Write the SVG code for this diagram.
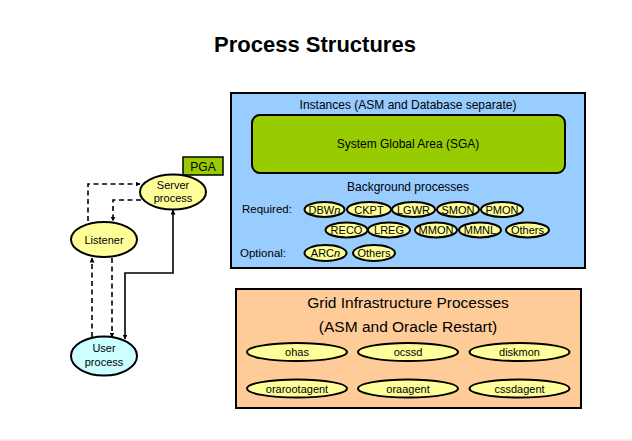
<svg xmlns="http://www.w3.org/2000/svg" width="632" height="441" viewBox="0 0 632 441">
<defs>
<style>
text{font-family:"Liberation Sans",Arial,sans-serif;fill:#000;text-anchor:middle}
.t{font-size:22px;font-weight:bold}
.box{stroke:#000;stroke-width:2}
.y{fill:#ffff99;stroke:#000;stroke-width:2}
.s{font-size:11px}
.m{font-size:11px}
.h{font-size:12px}
.g{font-size:15.5px}
.lbl{font-size:11.5px;text-anchor:start}
.d{fill:none;stroke:#000;stroke-width:1.6;stroke-dasharray:5,3.5}
.c{fill:none;stroke:#000;stroke-width:1.6}
</style>
<marker id="a" viewBox="0 0 10 10" refX="9" refY="5" markerWidth="5" markerHeight="5" orient="auto-start-reverse" markerUnits="userSpaceOnUse"><path d="M0,0 L10,5 L0,10 z" fill="#000"/></marker>
</defs>
<rect width="632" height="441" fill="#fff"/>
<rect x="0" y="439.5" width="632" height="1.5" fill="#ffe0e3"/>
<text class="t" x="315" y="52">Process Structures</text>

<g id="instances">
<rect class="box" x="231" y="93" width="354" height="175" fill="#99ccff"/>
<text class="h" x="408" y="109">Instances (ASM and Database separate)</text>
</g>
<g id="sga">
<rect class="box" x="252" y="115" width="313" height="58" rx="8" fill="#99cc00"/>
<text class="h" x="408" y="148">System Global Area (SGA)</text>
</g>
<g id="bg">
<text class="h" x="408" y="191">Background processes</text>
<text class="lbl" x="242" y="213">Required:</text>
<text class="lbl" x="240" y="257">Optional:</text>
</g>
<g id="dbwn"><ellipse class="y" cx="324.5" cy="209.5" rx="20" ry="7.5"/><text class="s" x="324.5" y="213.5">DBW<tspan font-style="italic">n</tspan></text></g>
<g id="ckpt"><ellipse class="y" cx="369" cy="209.5" rx="22" ry="7.5"/><text class="s" x="369" y="213.5">CKPT</text></g>
<g id="lgwr"><ellipse class="y" cx="413.5" cy="209.5" rx="21.5" ry="7.5"/><text class="s" x="413.5" y="213.5">LGWR</text></g>
<g id="smon"><ellipse class="y" cx="458" cy="209.5" rx="21" ry="7.5"/><text class="s" x="458" y="213.5">SMON</text></g>
<g id="pmon"><ellipse class="y" cx="502" cy="209.5" rx="21" ry="7.5"/><text class="s" x="502" y="213.5">PMON</text></g>
<g id="reco"><ellipse class="y" cx="346.5" cy="230" rx="21" ry="7.5"/><text class="s" x="346.5" y="234">RECO</text></g>
<g id="lreg"><ellipse class="y" cx="389" cy="230" rx="21" ry="7.5"/><text class="s" x="389" y="234">LREG</text></g>
<g id="mmon"><ellipse class="y" cx="436" cy="230" rx="21" ry="7.5"/><text class="s" x="436" y="234">MMON</text></g>
<g id="mmnl"><ellipse class="y" cx="480" cy="230" rx="21" ry="7.5"/><text class="s" x="480" y="234">MMNL</text></g>
<g id="others1"><ellipse class="y" cx="527.5" cy="230" rx="21.5" ry="7.5"/><text class="s" x="527.5" y="234">Others</text></g>
<g id="arcn"><ellipse class="y" cx="325.5" cy="253" rx="21" ry="8"/><text class="s" x="325.5" y="257">ARC<tspan font-style="italic">n</tspan></text></g>
<g id="others2"><ellipse class="y" cx="374" cy="253" rx="21" ry="8"/><text class="s" x="374" y="257">Others</text></g>

<g id="grid">
<rect class="box" x="236" y="289" width="345" height="119" fill="#ffcc99"/>
<text class="g" x="408" y="308">Grid Infrastructure Processes</text>
<text class="g" x="408" y="332">(ASM and Oracle Restart)</text>
</g>
<g id="ohas"><ellipse class="y" cx="297" cy="352" rx="50" ry="9"/><text class="s" x="297" y="356">ohas</text></g>
<g id="ocssd"><ellipse class="y" cx="408" cy="352" rx="50" ry="9"/><text class="s" x="408" y="356">ocssd</text></g>
<g id="diskmon"><ellipse class="y" cx="519.5" cy="352" rx="50" ry="9"/><text class="s" x="519.5" y="356">diskmon</text></g>
<g id="orarootagent"><ellipse class="y" cx="297" cy="388.5" rx="50" ry="9"/><text class="s" x="297" y="392.5">orarootagent</text></g>
<g id="oraagent"><ellipse class="y" cx="408" cy="388.5" rx="50" ry="9"/><text class="s" x="408" y="392.5">oraagent</text></g>
<g id="cssdagent"><ellipse class="y" cx="519.5" cy="388.5" rx="50" ry="9"/><text class="s" x="519.5" y="392.5">cssdagent</text></g>

<g id="connectors">
<path class="d" d="M88,221 V184 H140" marker-end="url(#a)"/>
<path class="d" d="M141,200 H113 V221" marker-end="url(#a)"/>
<path class="d" d="M92,337 V258" marker-end="url(#a)"/>
<path class="d" d="M112,258 V337" marker-end="url(#a)"/>
<path class="c" d="M173,210 V273 H125 V339" marker-start="url(#a)" marker-end="url(#a)"/>
</g>

<g id="pga">
<rect x="183" y="157" width="40" height="18" fill="#99cc00" stroke="#000" stroke-width="1.5"/>
<text class="h" x="203" y="171">PGA</text>
</g>
<g id="server">
<ellipse class="y" cx="173" cy="192" rx="33" ry="17.5"/>
<text class="m" x="173" y="189">Server</text>
<text class="m" x="173" y="202">process</text>
</g>
<g id="listener">
<ellipse class="y" cx="104" cy="239.5" rx="33" ry="17.5"/>
<text class="m" x="104" y="243.5">Listener</text>
</g>
<g id="user">
<ellipse cx="104" cy="356" rx="33" ry="19.5" fill="#ccffff" stroke="#000" stroke-width="2"/>
<text class="m" x="104" y="352">User</text>
<text class="m" x="104" y="366">process</text>
</g>
</svg>
